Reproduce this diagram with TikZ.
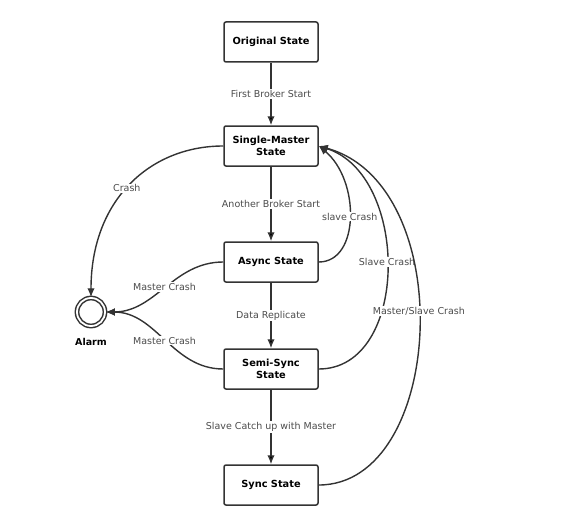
\documentclass[tikz,border=0pt]{standalone}
\usepackage{fontspec}
\setmainfont{DejaVu Sans}
\usetikzlibrary{arrows.meta}

\tikzset{
  state/.style={draw=black!80, line width=1.5pt, rounded corners=2pt, fill=white,
    minimum width=94pt, minimum height=40pt, align=center, inner sep=2pt,
    font=\fontsize{9.8}{11.5}\selectfont\bfseries},
  lbl/.style={fill=white, inner sep=1pt, text=black!70,
    font=\fontsize{9.5}{10}\selectfont},
  trans/.style={-{Latex[length=9pt,width=7.5pt]}, draw=black!80, line width=1.4pt},
}

\begin{document}
\begin{tikzpicture}[x=1pt, y=-1pt]
  \useasboundingbox (0,0) rectangle (568,527);

  \node[state] (orig)  at (271,42)  {Original State};
  \node[state] (sm)    at (271,146) {Single-Master\\State};
  \node[state] (async) at (271,262) {Async State};
  \node[state] (semi)  at (271,369) {Semi-Sync\\State};
  \node[state] (sync)  at (271,485) {Sync State};

  \node[circle, draw=black!80, line width=1.5pt, double, double distance=1.8pt,
        minimum size=28pt] (alarm) at (91,312) {};
  \node[font=\fontsize{9.5}{10}\selectfont\bfseries] (alarmtxt) at (91,342) {Alarm};

  % main line
  \path[trans]
  (orig)  edge node[lbl] {First Broker Start} (sm)
  (sm)    edge node[lbl] {Another Broker Start} (async)
  (async) edge node[lbl] {Data Replicate} (semi)
  (semi)  edge node[lbl] {Slave Catch up with Master} (sync)
  ;

  % crashes to alarm
  \draw[trans] (sm.west) .. controls (150,146) and (91,200) .. node[lbl, pos=0.52] {Crash} (alarm.north);
  \draw[trans] (async.west) to[out=180, in=0] node[lbl] {Master Crash} (alarm.east);
  \draw[trans] (semi.west) to[out=180, in=0] node[lbl] {Master Crash} (alarm.east);

  % back to single master
  \draw[trans] (async.east) .. controls (360,262) and (360,180) .. node[lbl] {slave Crash} (sm.east);
  \draw[trans] (semi.east) .. controls (410,369) and (410,175) .. node[lbl, pos=0.52] {Slave Crash} (sm.east);
  \draw[trans] (sync.east) .. controls (445,485) and (460,185) .. node[lbl, pos=0.54] {Master/Slave Crash} (sm.east);
\end{tikzpicture}
\end{document}
